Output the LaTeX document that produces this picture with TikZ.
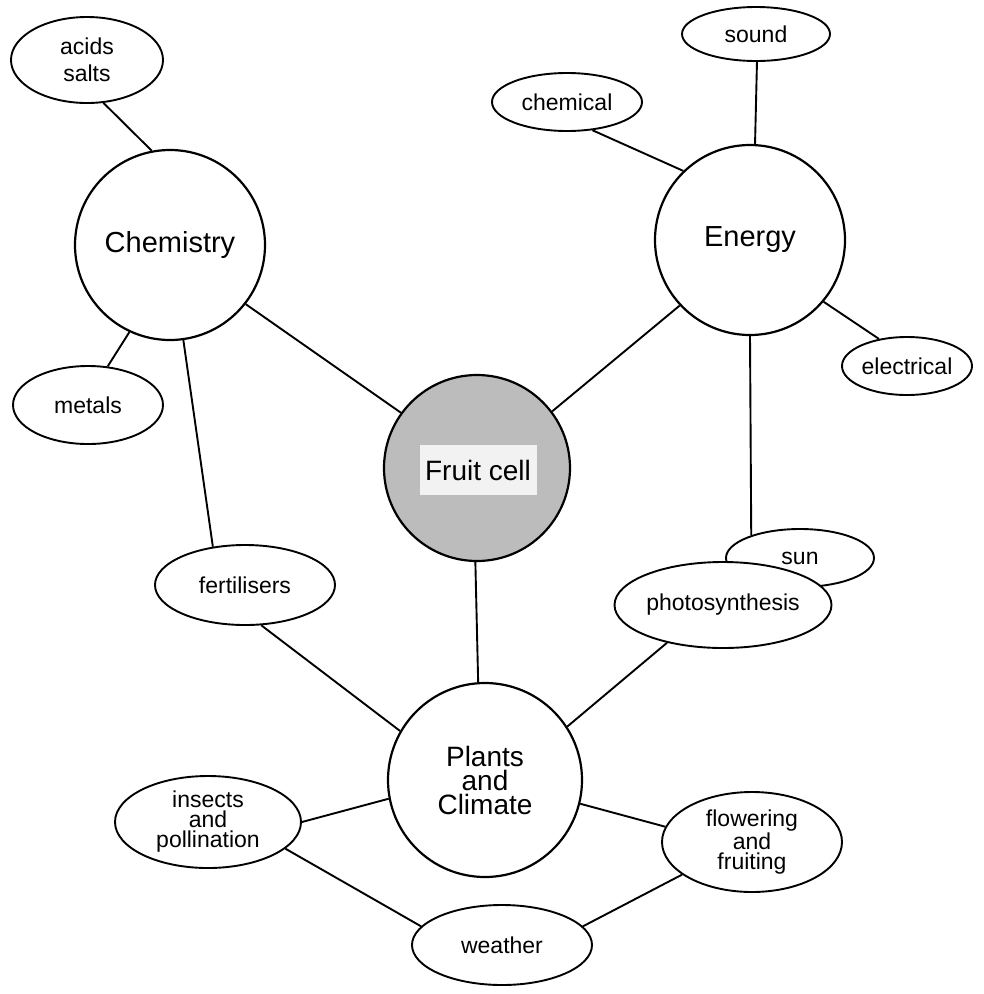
\documentclass[tikz,border=0pt]{standalone}
\usepackage{fontspec}
\setmainfont{Liberation Sans}
\usetikzlibrary{shapes.geometric}
\definecolor{cellgray}{RGB}{188,188,188}
\definecolor{lblgray}{RGB}{242,242,242}
\begin{document}
\begin{tikzpicture}[x=1pt,y=-1pt,
  bigcirc/.style={circle, draw, fill=white, line width=2.2pt, inner sep=0pt, minimum size=190pt, align=center, font=\fontsize{29}{24}\selectfont},
  oval/.style={ellipse, draw, fill=white, line width=1.9pt, inner sep=0pt, align=center, font=\fontsize{23}{20}\selectfont},
  link/.style={line width=1.9pt}]
\useasboundingbox (0,0) rectangle (984,994);
% big circles
\node[bigcirc] (chem) at (170,245) {Chemistry};
\node[bigcirc] (energy) at (750,240) {Energy};
\node[bigcirc, fill=cellgray, minimum size=186pt] (fruit) at (477,468) {};
\node[fill=lblgray, inner sep=0pt, minimum width=117pt, minimum height=50pt, font=\fontsize{28}{28}\selectfont] (fruitlbl) at (478,470) {Fruit cell};
\node[bigcirc, minimum size=194pt, font=\fontsize{28}{24}\selectfont] (plants) at (485,780) {Plants\\and\\Climate};
% ovals
\node[oval, minimum width=152pt, minimum height=86pt, font=\fontsize{23}{27}\selectfont] (acids) at (87,60) {acids\\salts};
\node[oval, minimum width=148pt, minimum height=54pt] (sound) at (756,34) {sound};
\node[oval, minimum width=150pt, minimum height=58pt] (chemical) at (567,102) {chemical};
\node[oval, minimum width=130pt, minimum height=58pt] (electrical) at (907,366) {electrical};
\node[oval, minimum width=150pt, minimum height=78pt] (metals) at (88,405) {metals};
\node[oval, minimum width=180pt, minimum height=80pt] (fert) at (245,585) {fertilisers};
\node[oval, minimum width=148pt, minimum height=58pt] (sun) at (800,558) {sun};
\node[oval, minimum width=178pt, minimum height=86pt] (photo) at (723,605) {photosynthesis};
\node[oval, minimum width=186pt, minimum height=92pt] (insects) at (208,822) {insects\\and\\pollination};
\node[oval, minimum width=180pt, minimum height=100pt] (flower) at (752,842) {flowering\\and\\fruiting};
\node[oval, minimum width=180pt, minimum height=80pt] (weather) at (502,945) {weather};
% connectors
\draw[link] (acids.-69) -- (chem.101.6);
\draw[link] (chem.-115) -- (metals.63);
\draw[link] (chem.-82.6) -- (fert.130);
\draw[link] (chem.-38.7) -- (fruit.144);
\draw[link] (chemical.-48.5) -- (energy.134.6);
\draw[link] (sound.-88) -- (energy.87);
\draw[link] (energy.-40.6) -- (electrical.136);
\draw[link] (energy.-90) -- (sun.155);
\draw[link] (energy.-137) -- (fruit.37.6);
\draw[link] (fruit.-91) -- (plants.94.7);
\draw[link] (fert.-68) -- (plants.150);
\draw[link] (photo.-146) -- (plants.33);
\draw[link] (insects.0) -- (plants.-169.4);
\draw[link] (plants.-14.5) -- (flower.170);
\draw[link] (insects.-19) -- (weather.167.6);
\draw[link] (flower.-155.7) -- (weather.13.5);
\end{tikzpicture}
\end{document}
